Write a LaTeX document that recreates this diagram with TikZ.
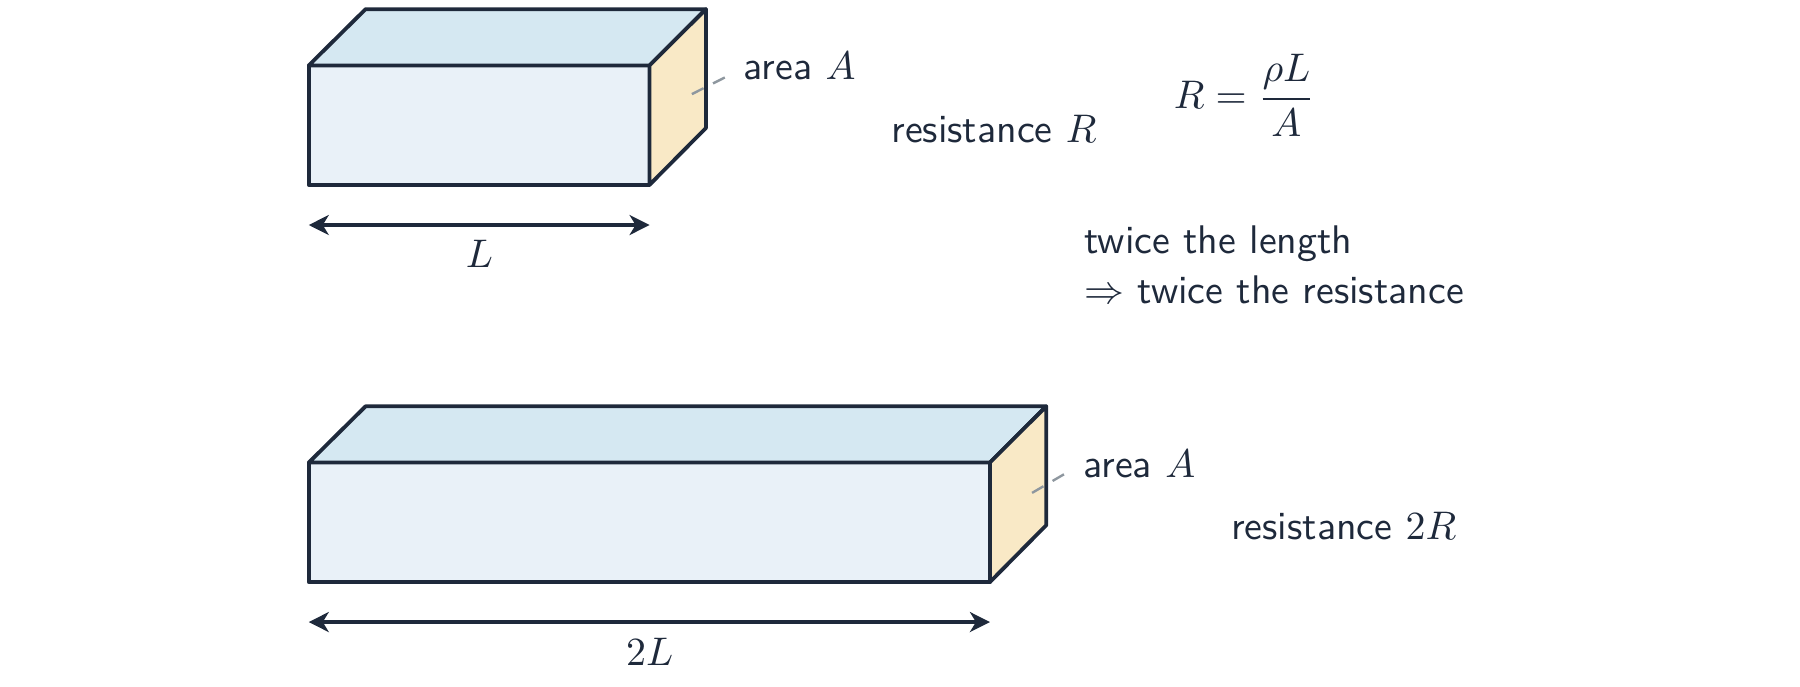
\documentclass[tikz,border=0pt]{standalone}
\usetikzlibrary{arrows.meta}
\definecolor{inkdark}{HTML}{1E293B}
\definecolor{frontblue}{HTML}{E9F1F8}
\definecolor{topblue}{HTML}{D5E8F2}
\definecolor{sidetan}{HTML}{F9E9C6}
\definecolor{leadergray}{HTML}{8E979F}
\tikzset{
  face/.style={draw=inkdark,line width=0.95pt,line join=round},
  dimline/.style={draw=inkdark,line width=0.95pt,{Stealth[length=5pt,width=5pt,inset=1.5pt]}-{Stealth[length=5pt,width=5pt,inset=1.5pt]}},
  leader/.style={draw=leadergray,line width=0.6pt,dash pattern=on 3.3pt off 2.65pt},
  lbl/.style={inner sep=0pt,text=inkdark,font=\sffamily\fontsize{10}{12.5}\selectfont},
}
\begin{document}
\begin{tikzpicture}
  \useasboundingbox (0,0) rectangle (15.845,6.039);

  % short bar
  \coordinate (a1) at (2.718,4.412);
  \coordinate (a2) at (5.718,4.412);
  \coordinate (a3) at (5.718,5.463);
  \coordinate (a4) at (2.718,5.463);
  \coordinate (a5) at (3.218,5.958);
  \coordinate (a6) at (6.214,5.958);
  \coordinate (a7) at (6.214,4.912);
  \draw[face,fill=frontblue] (a1) -- (a2) -- (a3) -- (a4) -- cycle;
  \draw[face,fill=topblue] (a4) -- (a3) -- (a6) -- (a5) -- cycle;
  \draw[face,fill=sidetan] (a2) -- (a7) -- (a6) -- (a3) -- cycle;

  % long bar
  \coordinate (b1) at (2.718,0.915);
  \coordinate (b2) at (8.714,0.915);
  \coordinate (b3) at (8.714,1.967);
  \coordinate (b4) at (2.718,1.967);
  \coordinate (b5) at (3.218,2.462);
  \coordinate (b6) at (9.21,2.462);
  \coordinate (b7) at (9.21,1.416);
  \draw[face,fill=frontblue] (b1) -- (b2) -- (b3) -- (b4) -- cycle;
  \draw[face,fill=topblue] (b4) -- (b3) -- (b6) -- (b5) -- cycle;
  \draw[face,fill=sidetan] (b2) -- (b7) -- (b6) -- (b3) -- cycle;

  % lengths
  \coordinate (la) at (2.718,4.058);
  \coordinate (ra) at (5.718,4.058);
  \coordinate (lb) at (2.718,0.563);
  \coordinate (rb) at (8.714,0.563);
  \draw[dimline] (la) -- (ra);
  \draw[dimline] (lb) -- (rb);
  \node[lbl] (lenA) at (4.22,3.80) {$L$};
  \node[lbl] (lenB) at (5.72,0.305) {$2L$};

  % areas
  \node[lbl,anchor=west] (areaA) at (6.54,5.46) {area $A$};
  \node[lbl,anchor=west] (areaB) at (9.53,1.955) {area $A$};
  \coordinate (pa) at (6.09,5.21);
  \coordinate (qa) at (6.387,5.36);
  \coordinate (pb) at (9.085,1.70);
  \coordinate (qb) at (9.37,1.866);
  \draw[leader] (pa) -- (qa);
  \draw[leader] (pb) -- (qb);

  % right hand text
  \node[lbl,anchor=west] (resA) at (7.84,4.905) {resistance $R$};
  \node[lbl] (formula) at (10.955,5.20) {$\displaystyle R=\frac{\rho L}{A}$};
  \node[lbl,anchor=west,align=left] (twice) at (9.54,3.71) {twice the length\\$\Rightarrow$ twice the resistance};
  \node[lbl,anchor=west] (resB) at (10.83,1.41) {resistance $2R$};
\end{tikzpicture}
\end{document}
